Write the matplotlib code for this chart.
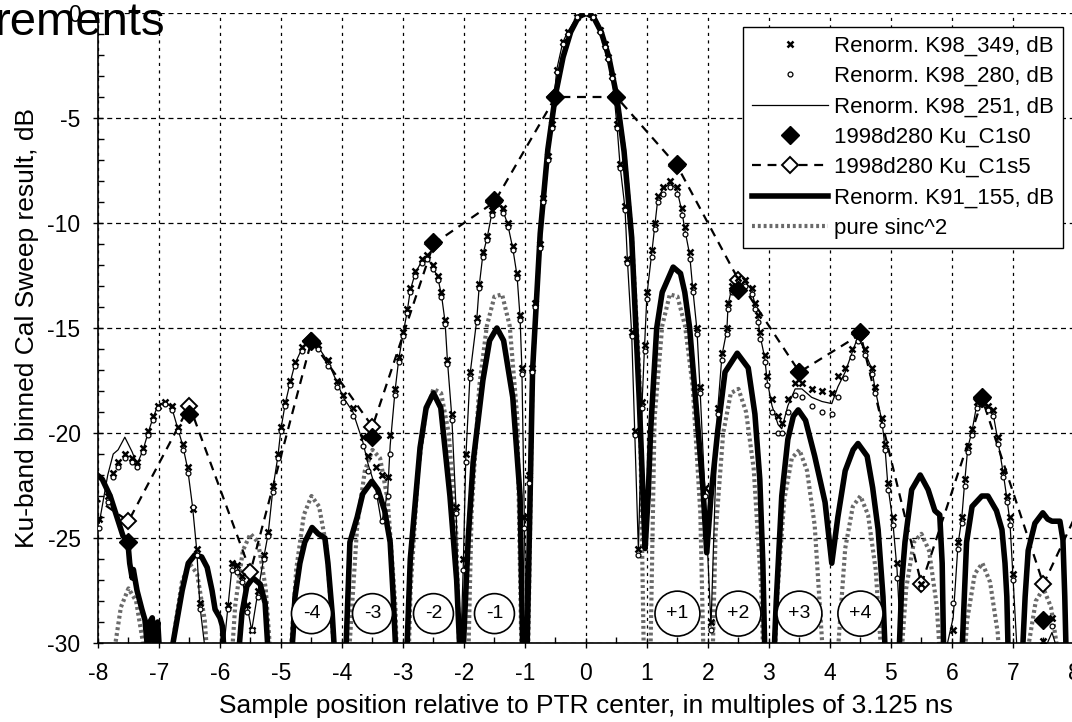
import numpy as np
import matplotlib
matplotlib.use('Agg')
import matplotlib.pyplot as plt

plt.rcParams['font.family'] = ['Liberation Sans', 'DejaVu Sans']
plt.rcParams['axes.unicode_minus'] = False

# K98 sweep samples (shared sample positions, x in samples)
k98_x = [-7.98, -7.84, -7.75, -7.67, -7.56, -7.44, -7.36, -7.26, -7.18, -7.10,
         -7.02, -6.90, -6.79, -6.69, -6.61, -6.53, -6.45, -6.38, -6.33, -6.22,
         -6.08, -5.94, -5.87, -5.80, -5.72, -5.64, -5.55, -5.48, -5.38, -5.28,
         -5.21, -5.13, -5.05, -5.00, -4.93, -4.85, -4.77, -4.66, -4.52, -4.39,
         -4.23, -4.08, -3.98, -3.82, -3.66, -3.57, -3.45, -3.35, -3.25, -3.21,
         -3.13, -3.07, -3.00, -2.93, -2.88, -2.80, -2.69, -2.61, -2.51, -2.43,
         -2.37, -2.31, -2.27, -2.20, -2.13, -2.06, -2.01, -1.97, -1.90, -1.79,
         -1.75, -1.69, -1.62, -1.54, -1.46, -1.36, -1.28, -1.20, -1.13, -1.08,
         -1.05, -1.01, -0.97, -0.93, -0.89, -0.84, -0.76, -0.70, -0.62, -0.56,
         -0.48, -0.38, -0.30, -0.15, 0.00, 0.11, 0.23, 0.31, 0.36, 0.43,
         0.51, 0.56, 0.64, 0.68, 0.75, 0.80, 0.86, 0.92, 0.96, 1.00,
         1.08, 1.13, 1.18, 1.26, 1.38, 1.49, 1.57, 1.62, 1.70, 1.75,
         1.82, 1.87, 1.95, 2.05, 2.16, 2.23, 2.31, 2.33, 2.39, 2.49,
         2.61, 2.72, 2.77, 2.82, 2.85, 2.93, 2.97, 3.05, 3.15, 3.21,
         3.31, 3.43, 3.54, 3.70, 3.87, 4.03, 4.13, 4.25, 4.36, 4.46,
         4.57, 4.69, 4.74, 4.85, 4.90, 4.95, 5.03, 5.10, 5.18, 5.50,
         5.85, 6.02, 6.10, 6.16, 6.21, 6.26, 6.33, 6.41, 6.49, 6.59,
         6.67, 6.75, 6.84, 6.90, 6.95, 7.00, 7.08, 7.49, 7.64, 7.80]

k98_349 = [-24.1, -23.0, -21.9, -21.4, -21.0, -21.2, -21.4, -20.7, -19.9, -19.2,
           -18.7, -18.5, -18.7, -19.7, -20.5, -21.6, -23.6, -25.5, -28.1, -30.8,
           -31.5, -30.2, -28.2, -26.2, -26.3, -26.8, -28.2, -29.4, -27.5, -25.8,
           -24.7, -22.5, -21.0, -19.7, -18.5, -17.5, -16.6, -15.9, -15.5, -15.8,
           -16.5, -17.5, -18.2, -18.8, -20.2, -21.1, -21.6, -22.0, -22.1, -20.1,
           -17.9, -16.4, -15.2, -14.1, -13.1, -12.3, -11.7, -11.5, -12.0, -12.5,
           -13.3, -14.6, -16.5, -19.1, -23.5, -31.0, -26.0, -21.0, -17.1, -14.5,
           -12.9, -11.4, -10.6, -9.4, -8.9, -9.3, -10.0, -11.1, -12.4, -14.4,
           -16.9, -24.0, -31.0, -22.0, -16.9, -13.8, -11.0, -8.8, -6.8, -5.3,
           -2.7, -1.4, -0.9, -0.2, 0.0, -0.2, -0.8, -1.5, -2.1, -3.0,
           -5.3, -7.2, -9.2, -11.7, -15.2, -19.9, -25.5, -18.5, -15.8, -13.3,
           -11.3, -10.0, -8.7, -8.3, -8.0, -8.3, -9.3, -10.2, -11.4, -13.0,
           -15.0, -17.8, -22.6, -29.0, -18.8, -16.2, -15.0, -13.8, -13.0, -12.6,
           -12.7, -13.1, -13.8, -14.4, -15.2, -16.3, -17.3, -18.4, -19.2, -19.5,
           -18.4, -17.6, -17.6, -17.9, -18.0, -18.1, -17.3, -16.9, -16.0, -15.3,
           -16.0, -16.9, -17.8, -19.3, -20.5, -22.4, -24.0, -26.2, -31.0, -27.2,
           -31.0, -29.4, -25.2, -24.0, -22.2, -20.6, -19.8, -18.5, -18.4, -18.7,
           -18.9, -20.2, -21.8, -23.0, -24.0, -26.7, -31.0, -29.9, -28.8, -31.0]

k98_280 = [-24.5, -23.3, -22.1, -21.6, -21.2, -21.4, -21.6, -20.9, -20.1, -19.4,
           -18.8, -18.6, -18.9, -19.9, -20.8, -21.9, -23.5, -25.8, -28.4, -31.0,
           -31.5, -30.4, -28.4, -26.5, -26.6, -27.1, -28.5, -29.4, -27.8, -26.0,
           -24.9, -22.8, -21.2, -19.9, -18.7, -17.7, -16.8, -16.1, -15.7, -16.0,
           -16.8, -17.8, -18.5, -19.2, -20.6, -21.8, -23.0, -24.2, -23.0, -21.0,
           -18.2, -16.6, -15.4, -14.3, -13.3, -12.5, -11.9, -11.7, -12.2, -12.7,
           -13.5, -14.8, -16.7, -19.4, -23.8, -31.0, -26.5, -21.4, -17.4, -14.7,
           -13.1, -11.6, -10.8, -9.6, -9.1, -9.5, -10.2, -11.3, -12.6, -14.6,
           -17.2, -24.5, -31.0, -22.4, -17.1, -14.0, -11.2, -9.0, -7.0, -5.5,
           -2.8, -1.5, -1.0, -0.2, 0.0, -0.2, -0.9, -1.6, -2.2, -3.1,
           -5.5, -7.4, -9.4, -11.9, -15.4, -20.1, -25.8, -18.8, -16.1, -13.6,
           -11.6, -10.3, -9.0, -8.6, -8.3, -8.6, -9.6, -10.5, -11.7, -13.3,
           -15.3, -18.1, -23.0, -29.4, -19.1, -16.5, -15.3, -14.1, -13.3, -12.9,
           -13.0, -13.4, -14.1, -14.7, -15.5, -16.6, -17.7, -19.0, -20.0, -20.0,
           -19.0, -18.2, -18.3, -18.7, -19.0, -19.1, -18.3, -17.4, -16.4, -15.6,
           -16.3, -17.2, -18.1, -19.6, -20.8, -22.7, -24.4, -26.9, -31.0, -27.4,
           -31.0, -28.1, -25.5, -24.3, -22.5, -20.9, -20.1, -18.8, -18.6, -18.9,
           -19.2, -20.5, -22.1, -23.3, -24.4, -27.0, -31.0, -30.3, -29.2, -31.0]

k98_251 = [-24.3, -22.0, -21.0, -20.8, -20.2, -20.9, -21.5, -20.8, -20.0, -19.3,
           -18.7, -18.5, -18.8, -19.8, -20.6, -21.7, -23.5, -25.6, -28.2, -30.9,
           -31.5, -30.3, -28.3, -26.3, -26.4, -26.9, -28.3, -29.4, -27.6, -25.9,
           -24.8, -22.6, -21.1, -19.8, -18.6, -17.6, -16.7, -16.0, -15.6, -15.9,
           -16.6, -17.6, -18.3, -19.0, -20.4, -21.5, -22.6, -24.3, -22.8, -20.6,
           -18.0, -16.5, -15.3, -14.2, -13.2, -12.4, -11.8, -11.6, -12.1, -12.6,
           -13.4, -14.7, -16.6, -19.2, -23.6, -31.0, -26.2, -21.2, -17.2, -14.6,
           -13.0, -11.5, -10.7, -9.5, -9.0, -9.4, -10.1, -11.2, -12.5, -14.5,
           -17.0, -24.2, -31.0, -22.2, -17.0, -13.9, -11.1, -8.9, -6.9, -5.4,
           -2.7, -1.4, -0.9, -0.2, 0.0, -0.2, -0.8, -1.5, -2.1, -3.0,
           -5.4, -7.3, -9.3, -11.8, -15.3, -20.0, -25.6, -18.6, -15.9, -13.4,
           -11.4, -10.1, -8.8, -8.4, -8.1, -8.4, -9.4, -10.3, -11.5, -13.1,
           -15.1, -17.9, -22.8, -29.2, -18.9, -16.3, -15.1, -13.9, -13.1, -12.7,
           -12.8, -13.2, -13.9, -14.5, -15.3, -16.4, -17.5, -18.7, -19.6, -19.8,
           -18.7, -17.9, -17.9, -18.3, -18.5, -18.6, -17.8, -17.1, -16.2, -15.4,
           -16.1, -17.0, -17.9, -19.4, -20.6, -22.5, -24.2, -26.5, -31.0, -31.0,
           -31.0, -28.8, -25.3, -24.1, -22.3, -20.7, -19.9, -18.6, -18.5, -18.8,
           -19.0, -20.3, -21.9, -23.1, -24.2, -26.8, -31.0, -30.5, -29.5, -31.0]

# K91 reference sweep (thick line)
k91_x = [-8.05, -7.93, -7.80, -7.69, -7.59, -7.51, -7.48, -7.44, -7.42, -7.36,
         -7.28, -7.23, -7.18, -7.15, -7.11, -7.07, -7.02, -6.98, -6.85, -6.77,
         -6.62, -6.52, -6.41, -6.30, -6.21, -6.13, -6.08, -6.00, -5.96, -5.92,
         -5.75, -5.68, -5.64, -5.56, -5.46, -5.34, -5.26, -5.22, -5.18, -4.85,
         -4.80, -4.77, -4.69, -4.61, -4.49, -4.39, -4.28, -4.23, -4.16, -4.10,
         -3.95, -3.87, -3.75, -3.66, -3.51, -3.41, -3.30, -3.21, -3.16, -3.10,
         -2.95, -2.88, -2.72, -2.62, -2.50, -2.38, -2.23, -2.12, -2.05, -2.03,
         -1.93, -1.85, -1.69, -1.58, -1.46, -1.35, -1.20, -1.08, -1.03, -0.97,
         -0.875, -0.75, -0.625, -0.5, -0.375, -0.25, -0.125, 0.0, 0.125, 0.25,
         0.375, 0.5, 0.625, 0.75, 0.875, 0.93, 0.97, 1.02, 1.06, 1.16,
         1.25, 1.43, 1.55, 1.62, 1.70, 1.84, 1.92, 1.98, 2.05, 2.16,
         2.28, 2.48, 2.66, 2.77, 2.85, 2.90, 2.94, 3.07, 3.12, 3.21,
         3.31, 3.40, 3.48, 3.60, 3.75, 3.92, 4.03, 4.13, 4.25, 4.38,
         4.46, 4.61, 4.70, 4.79, 4.87, 4.92, 5.12, 5.18, 5.23, 5.34,
         5.48, 5.61, 5.72, 5.80, 5.84, 5.87, 6.15, 6.18, 6.24, 6.33,
         6.49, 6.59, 6.73, 6.82, 6.87, 6.90, 6.93, 7.14, 7.20, 7.25,
         7.36, 7.49, 7.57, 7.64, 7.77, 7.82, 7.85, 7.88]

k91_155 = [-21.9, -22.2, -23.0, -24.0, -24.9, -25.2, -26.2, -26.9, -26.5, -27.5,
           -28.4, -28.9, -30.5, -29.0, -28.8, -30.2, -29.0, -31.0, -31.5, -30.0,
           -27.5, -26.2, -25.8, -25.9, -26.4, -27.5, -28.4, -28.8, -29.2, -31.0,
           -31.0, -30.0, -28.6, -27.3, -26.9, -27.2, -28.1, -30.0, -31.5, -31.5,
           -29.5, -27.8, -26.2, -25.2, -24.5, -24.8, -25.0, -26.2, -28.6, -31.5,
           -31.5, -25.2, -24.0, -22.9, -22.3, -22.7, -23.7, -25.2, -27.8, -31.5,
           -31.5, -26.0, -20.7, -18.8, -18.1, -18.8, -23.0, -27.0, -31.5, -31.5,
           -25.0, -21.4, -17.5, -15.6, -15.0, -15.6, -18.3, -23.0, -31.5, -31.0,
           -17.0, -10.5, -6.5, -3.9, -2.1, -0.9, -0.2, 0.0, -0.2, -0.9,
           -2.1, -3.9, -6.6, -10.7, -18.5, -22.5, -25.5, -23.0, -19.9, -15.0,
           -13.3, -12.1, -12.4, -13.3, -15.0, -19.9, -22.7, -25.7, -23.0, -19.9,
           -17.1, -16.2, -16.9, -19.1, -22.2, -26.2, -31.5, -31.5, -28.0, -23.0,
           -20.3, -19.2, -18.9, -19.4, -21.1, -23.3, -26.2, -24.0, -21.8, -20.8,
           -20.5, -21.1, -22.6, -24.6, -27.8, -31.5, -31.5, -27.0, -25.2, -22.7,
           -22.0, -22.7, -23.7, -23.9, -26.2, -31.5, -31.5, -29.4, -25.2, -23.5,
           -23.0, -23.0, -23.7, -24.6, -26.2, -27.8, -31.5, -31.5, -27.8, -25.6,
           -24.3, -23.8, -24.1, -24.2, -24.2, -25.1, -27.8, -31.5]

# pure sinc^2 reference, sampled every 1/8 sample from -8 to 8
sinc_x = np.arange(-8, 8.001, 0.125)
sinc_db = [-40.0, -36.2, -30.7, -28.3, -27.4, -28.0, -30.2, -35.3,
           -40.0, -35.0, -29.5, -27.1, -26.2, -26.7, -28.9, -34.0,
           -40.0, -33.7, -28.2, -25.6, -24.8, -25.2, -27.4, -32.5,
           -40.0, -32.0, -26.5, -23.9, -23.0, -23.5, -25.5, -30.6,
           -40.0, -30.1, -24.4, -21.8, -20.8, -21.2, -23.2, -28.2,
           -40.0, -27.5, -21.7, -19.0, -17.9, -18.1, -20.0, -24.8,
           -40.0, -23.8, -17.8, -14.9, -13.5, -13.4, -14.9, -19.3,
           -40.0, -17.1, -10.5, -6.5, -3.9, -2.1, -0.9, -0.2,
           0.0,
           -0.2, -0.9, -2.1, -3.9, -6.5, -10.5, -17.1, -40.0,
           -19.3, -14.9, -13.4, -13.5, -14.9, -17.8, -23.8, -40.0,
           -24.8, -20.0, -18.1, -17.9, -19.0, -21.7, -27.5, -40.0,
           -28.2, -23.2, -21.2, -20.8, -21.8, -24.4, -30.1, -40.0,
           -30.6, -25.5, -23.5, -23.0, -23.9, -26.5, -32.0, -40.0,
           -32.5, -27.4, -25.2, -24.8, -25.6, -28.2, -33.7, -40.0,
           -34.0, -28.9, -26.7, -26.2, -27.1, -29.5, -35.0, -40.0,
           -35.3, -30.2, -28.0, -27.4, -28.3, -30.7, -36.2, -40.0]

# 1998d280 cal sweep, half-sample positions
c1s0_x = [-7.5, -6.5, -4.5, -3.5, -2.5, -1.5, -0.5, 0.5, 1.5, 2.5, 3.5, 4.5, 6.5, 7.5]
c1s0 = [-25.2, -19.1, -15.6, -20.2, -10.9, -8.9, -4.0, -4.0, -7.2, -13.2, -17.1, -15.2, -18.3, -28.9]

c1s5_x = [-8.5, -7.5, -6.5, -5.5, -4.5, -3.5, -2.5, -1.5, -0.5, 0.5, 1.5, 2.5,
          3.5, 4.5, 5.5, 6.5, 7.5, 8.5]
c1s5 = [-22.2, -24.2, -18.7, -26.6, -15.6, -19.7, -11.0, -9.0, -4.0, -4.0, -7.3, -12.7,
        -17.1, -15.3, -27.2, -18.4, -27.2, -21.0]

lobe_x = [-4.5, -3.5, -2.5, -1.5, 1.5, 2.5, 3.5, 4.5]
lobe_labels = ['-4', '-3', '-2', '-1', '+1', '+2', '+3', '+4']

fig = plt.figure(figsize=(10.72, 7.22), dpi=100)
ax = fig.add_axes([0.0914, 0.1094, 0.9104, 0.8726])

ax.plot(k98_x, k98_349, linestyle='none', marker='x', ms=5, mew=1.8, color='black',
        label='Renorm. K98_349, dB', zorder=6)
ax.plot(k98_x, k98_280, linestyle='none', marker='o', ms=3.5, mew=0.9, mfc='white',
        mec='black', label='Renorm. K98_280, dB', zorder=6)
ax.plot(k98_x, k98_251, '-', lw=0.9, color='black', label='Renorm. K98_251, dB', zorder=4)
ax.plot(c1s0_x, c1s0, linestyle='none', marker='D', ms=9, color='black',
        label='1998d280 Ku_C1s0', zorder=7)
ax.plot(c1s5_x, c1s5, linestyle=(0, (4, 3)), lw=1.6, color='black', marker='D', ms=8,
        mfc='white', mec='black', mew=1.4, label='1998d280 Ku_C1s5', zorder=5)
ax.plot(k91_x, k91_155, '-', lw=4, color='black', solid_joinstyle='round',
        label='Renorm. K91_155, dB', zorder=3)
ax.plot(sinc_x, sinc_db, linestyle=(0, (0.7, 0.7)), lw=3, color='#6a6a6a',
        label='pure sinc^2', zorder=2)

for lx, lt in zip(lobe_x, lobe_labels):
    ax.text(lx, -28.6, lt, ha='center', va='center', fontsize=14, zorder=8,
            bbox=dict(boxstyle='circle,pad=0.58', fc='white', ec='black', lw=1.2))

ax.set_xlim(-8, 8)
ax.set_ylim(-30, 0)
ax.set_xticks(range(-8, 9))
ax.set_xticklabels([str(v) for v in range(-8, 9)])
ax.set_yticks(range(-30, 1, 5))
ax.set_yticklabels([str(v) for v in range(-30, 1, 5)])
ax.set_xticks(np.arange(-7.5, 8, 1.0), minor=True)
ax.set_yticks(range(-30, 1), minor=True)
ax.tick_params(axis='both', which='major', labelsize=16.5, direction='inout', length=7, width=1)
ax.tick_params(axis='both', which='minor', direction='in', length=4, width=1)
ax.tick_params(axis='x', which='major', pad=10)
ax.tick_params(axis='y', which='major', pad=9)

ax.grid(True, axis='x', which='major', linestyle=(0, (2.5, 3.5)), color='black', lw=0.9)
ax.grid(True, axis='y', which='major', linestyle=(0, (4, 3)), color='black', lw=0.9)
ax.set_axisbelow(True)
ax.spines['top'].set_visible(False)
ax.spines['right'].set_visible(False)
ax.spines['left'].set_linewidth(1.2)
ax.spines['bottom'].set_linewidth(1.2)

ax.set_xlabel('Sample position relative to PTR center, in multiples of 3.125 ns', fontsize=19, labelpad=7)
ax.set_ylabel('Ku-band binned Cal Sweep result, dB', fontsize=19, labelpad=6)

leg = ax.legend(loc='upper right', bbox_to_anchor=(0.989, 0.978), borderaxespad=0,
                fontsize=16, frameon=True, fancybox=False, edgecolor='black',
                framealpha=1, handlelength=3.4, handletextpad=0.3, labelspacing=0.42,
                borderpad=0.4)
leg.get_frame().set_linewidth(1.0)
leg.set_zorder(10)

fig.text(0.154, 0.952, 'rements', ha='right', va='baseline', fontsize=34)

fig.savefig('out.png', dpi=100)
